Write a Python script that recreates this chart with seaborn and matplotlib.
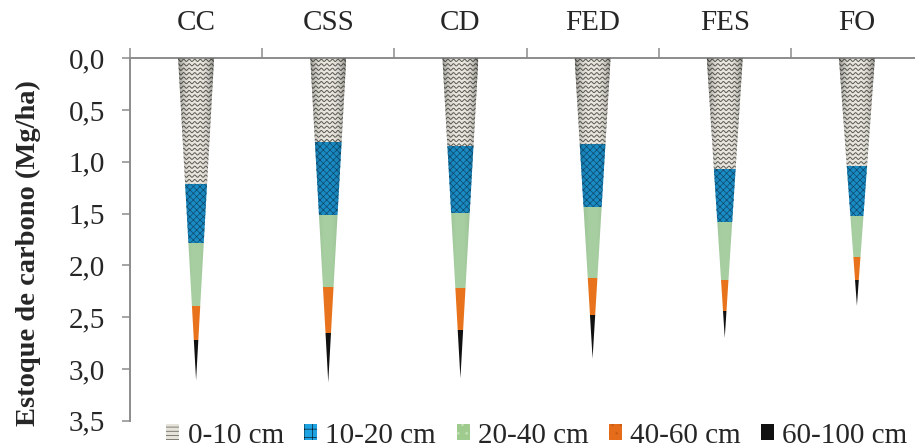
import numpy as np
import pandas as pd
import matplotlib
matplotlib.use("Agg")
import matplotlib.pyplot as plt
import seaborn as sns
from matplotlib.patches import Polygon, Patch

# Carbon stock (Mg/ha) per soil layer for each land-use category
categories = ["CC", "CSS", "CD", "FED", "FES", "FO"]
layer_labels = ["0-10 cm", "10-20 cm", "20-40 cm", "40-60 cm", "60-100 cm"]
stock_0_10 = [1.21, 0.81, 0.85, 0.83, 1.07, 1.04]
stock_10_20 = [0.57, 0.70, 0.64, 0.61, 0.51, 0.48]
stock_20_40 = [0.61, 0.70, 0.73, 0.68, 0.56, 0.40]
stock_40_60 = [0.33, 0.44, 0.40, 0.36, 0.30, 0.22]
stock_60_100 = [0.39, 0.48, 0.47, 0.42, 0.26, 0.25]
ytick_values = [0.0, 0.5, 1.0, 1.5, 2.0, 2.5, 3.0, 3.5]
ytick_labels = ["0,0", "0,5", "1,0", "1,5", "2,0", "2,5", "3,0", "3,5"]

layers = [stock_0_10, stock_10_20, stock_20_40, stock_40_60, stock_60_100]
fill_colors = ["#e8e6dd", "#1a8cc4", "#a6cea0", "#e8731c", "#111111"]
hatch_styles = [None, "xxxxx", None, None, None]
hatch_colors = ["#e8e6dd", "#0f4a6e", "#a6cea0", "#e8731c", "#111111"]
axis_gray = "#8c8c8c"
font_size = 21

sns.set_style("white")
plt.rcParams["font.family"] = ["Liberation Serif", "DejaVu Serif"]
plt.rcParams["hatch.linewidth"] = 0.5

fig = plt.figure(figsize=(9.15, 4.48), dpi=100)
ax = fig.add_axes([130 / 915, 1 - 420.7 / 448, 793 / 915, 362.4 / 448])

n = len(categories)
totals = np.sum(np.array(layers), axis=0)
half_w = 0.136  # half of the cone base width, in category units


def cone_slice(i, y0, y1):
    """Trapezoid of cone i between depths y0 and y1 (data coords)."""
    w0 = half_w * (1 - y0 / totals[i])
    w1 = half_w * (1 - y1 / totals[i])
    return Polygon([[i - w0, y0], [i + w0, y0], [i + w1, y1], [i - w1, y1]],
                   closed=True, transform=ax.transData)


cones = [Polygon([[i - half_w, 0], [i + half_w, 0], [i, totals[i]]],
                 closed=True, transform=ax.transData) for i in range(n)]

# Stacked bars, each clipped to its cone outline
bottom = np.zeros(n)
for k, vals in enumerate(layers):
    df = pd.DataFrame({"categoria": categories, "estoque": vals})
    n_before = len(ax.patches)
    sns.barplot(data=df, x="categoria", y="estoque", order=categories,
                bottom=bottom, width=0.3, color=fill_colors[k], saturation=1,
                errorbar=None, hatch=hatch_styles[k], edgecolor=hatch_colors[k],
                linewidth=0, ax=ax)
    for i, p in enumerate(ax.patches[n_before:]):
        p.set_clip_path(cones[i])
    bottom = bottom + np.array(vals)

# Wavy texture of the 0-10 cm layer
for i in range(n):
    clip = cone_slice(i, 0, stock_0_10[i])
    xs = np.linspace(i - half_w, i + half_w, 200)
    for y in np.arange(0.02, stock_0_10[i] + 0.02, 0.043):
        ax.plot(xs, y + 0.011 * np.sin(2 * np.pi * (xs - i) / 0.042),
                color="#5a5a54", lw=0.7, zorder=3, clip_path=clip)

# Rounded shading across each cone
u = np.linspace(-1, 1, 120)
shade = np.zeros((1, u.size, 4))
shade[0, :, 3] = 0.4 * np.abs(u) ** 3
for i in range(n):
    im = ax.imshow(shade, extent=[i - half_w, i + half_w, totals[i], 0],
                   aspect="auto", interpolation="bilinear", zorder=4)
    im.set_clip_path(cones[i])

ax.set_xlim(-0.5, n - 0.5)
ax.set_ylim(3.5, 0)
ax.set_yticks(ytick_values)
ax.set_yticklabels(ytick_labels)

ax.xaxis.tick_top()
ax.set_xticks(range(n))
ax.set_xticklabels(categories)
ax.set_xticks(np.arange(-0.5, n, 1), minor=True)
ax.tick_params(axis="x", which="major", length=0, pad=16, labelsize=font_size,
               top=True, bottom=False, labeltop=True, labelbottom=False)
ax.tick_params(axis="x", which="minor", length=7, width=1.1, color=axis_gray,
               top=True, bottom=False)
ax.tick_params(axis="y", which="major", left=True, length=6, width=1.1,
               color=axis_gray, pad=12, labelsize=font_size)

for side in ["right", "bottom"]:
    ax.spines[side].set_visible(False)
for side in ["top", "left"]:
    ax.spines[side].set_color(axis_gray)
    ax.spines[side].set_linewidth(1.4)

ax.set_xlabel("")
ax.set_ylabel("Estoque de carbono (Mg/ha)", fontsize=20.5, fontweight="bold")
ax.yaxis.set_label_coords(-0.112, 0.463)

legend_handles = [
    Patch(facecolor="#e6e4da", edgecolor="#55554f", hatch="----", linewidth=0),
    Patch(facecolor="#1ea3e2", edgecolor="#0a2233", hatch="++", linewidth=0),
    Patch(facecolor="#9fcc8e", edgecolor="#c8e3bd", hatch="..", linewidth=0),
    Patch(facecolor="#e46c1a", edgecolor="#c85a12", hatch="..", linewidth=0),
    Patch(facecolor="#111111", edgecolor="#111111", linewidth=0),
]
fig.legend(legend_handles, layer_labels, loc="center", ncol=5,
           bbox_to_anchor=(537 / 915, 1 - 435.5 / 448), frameon=False,
           fontsize=font_size, handlelength=0.45, handleheight=0.45,
           handletextpad=0.28, columnspacing=0.7, borderpad=0, borderaxespad=0)

fig.savefig("out.png", dpi=100)
